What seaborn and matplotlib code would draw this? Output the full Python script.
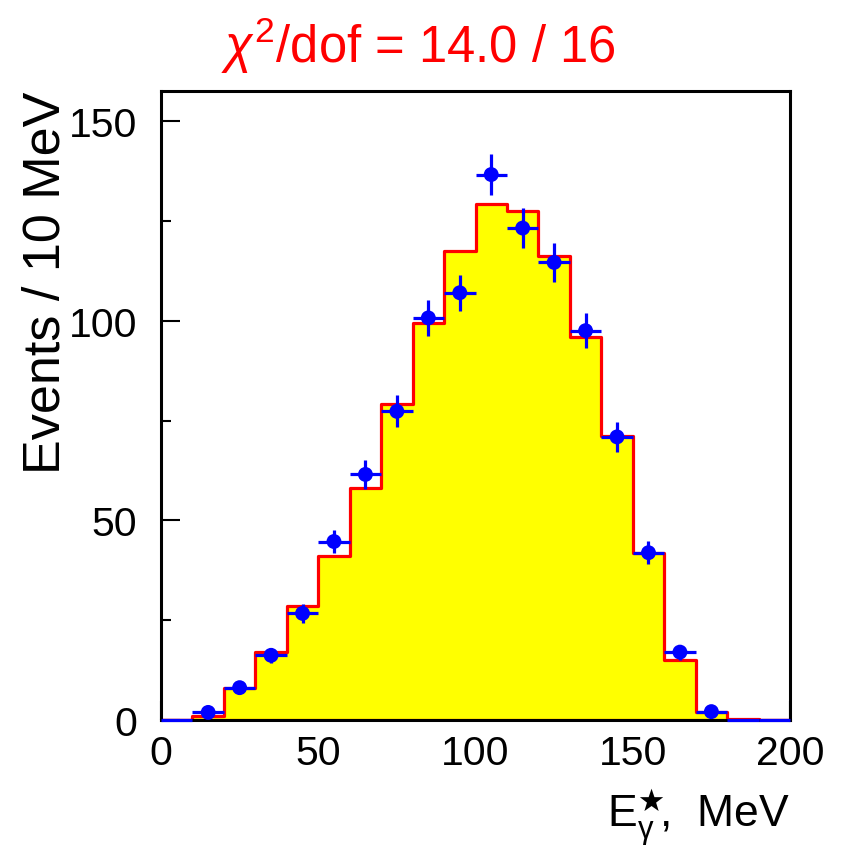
import numpy as np
import pandas as pd
import matplotlib
matplotlib.use("Agg")
import matplotlib.pyplot as plt
import seaborn as sns

# ---- data ----
bin_edges = [0, 10, 20, 30, 40, 50, 60, 70, 80, 90, 100,
             110, 120, 130, 140, 150, 160, 170, 180, 190, 200]
model_counts = [0.0, 1.0, 7.9, 17.0, 28.5, 41.0, 58.0, 79.1, 99.3, 117.5,
                129.2, 127.4, 116.2, 95.8, 71.0, 41.8, 15.0, 2.0, 0.25, 0.0]
data_counts = [0.0, 1.9, 8.1, 16.2, 26.7, 44.7, 61.5, 77.3, 100.7, 107.0,
               136.6, 123.2, 114.6, 97.5, 70.9, 41.9, 17.0, 2.1, 0.0, 0.0]
data_errors = [0.0, 0.6, 1.3, 1.8, 2.3, 3.0, 3.55, 4.0, 4.5, 4.5,
               5.2, 5.0, 4.8, 4.45, 3.8, 2.9, 1.85, 0.65, 0.0, 0.0]
x_ticks = [0, 50, 100, 150, 200]
y_ticks = [0, 50, 100, 150]
title_text = r"$\chi^{2}$/dof = 14.0 / 16"
x_label = r"E$_{\mathrm{\gamma}}^{\bigstar}$$\!$,  MeV"
y_label = "Events / 10 MeV"

sns.set_theme(style="ticks")
plt.rcParams["font.family"] = ["Liberation Sans", "DejaVu Sans"]
plt.rcParams["mathtext.fontset"] = "custom"
plt.rcParams["mathtext.rm"] = "Liberation Sans"
plt.rcParams["mathtext.it"] = "Liberation Sans:italic"
plt.rcParams["mathtext.bf"] = "Liberation Sans:bold"
plt.rcParams["mathtext.fallback"] = "stixsans"
for key in ["text.color", "axes.labelcolor", "xtick.color", "ytick.color",
            "xtick.labelcolor", "ytick.labelcolor"]:
    plt.rcParams[key] = "black"

edges = np.array(bin_edges, dtype=float)
centers = 0.5 * (edges[:-1] + edges[1:])
half_w = 0.5 * np.diff(edges)
df_model = pd.DataFrame({"E": centers, "w": model_counts})
df_data = pd.DataFrame({"E": centers, "N": data_counts, "err": data_errors})

fig = plt.figure(figsize=(8.44, 8.54), dpi=100)
ax = fig.add_axes([161 / 844, 1 - 721 / 854, (790 - 161) / 844, (721 - 91.7) / 854])

sns.histplot(data=df_model, x="E", weights="w", bins=list(bin_edges), element="step",
             fill=True, facecolor="#ffff00", edgecolor="#ff0000",
             linewidth=2.3, alpha=1.0, ax=ax, zorder=1)

ax.errorbar(df_data["E"], df_data["N"], xerr=half_w, yerr=df_data["err"],
            fmt="none", ecolor="#0000ff", elinewidth=2.3, capsize=0, zorder=3,
            clip_on=False)
nz = df_data[df_data["N"] > 0]
sns.scatterplot(data=nz, x="E", y="N", color="#0000ff", s=115,
                edgecolor="none", ax=ax, zorder=4, clip_on=False)

ax.set_xlim(0, 200)
ax.set_ylim(0, 157.6)
ax.set_xticks(x_ticks)
ax.set_yticks(y_ticks)
ax.set_xticks([25, 75, 125, 175], minor=True)
ax.set_yticks([25, 75, 125], minor=True)
ax.tick_params(which="both", direction="in", top=False, right=False,
               width=1.5, color="black")
ax.tick_params(which="major", length=13.5)
ax.tick_params(which="minor", length=7)
ax.tick_params(axis="x", which="major", labelsize=29.5, pad=10)
ax.tick_params(axis="y", which="major", labelsize=29.5, pad=17)
for s in ax.spines.values():
    s.set_linewidth(2.2)
    s.set_color("black")
    s.set_visible(True)

ax.set_xlabel(x_label, fontsize=32, loc="right", labelpad=10)
ax.set_ylabel(y_label, fontsize=37.5, loc="top", labelpad=-1)
ax.grid(False)

fig.text(0.496, 1 - 63 / 854, title_text, color="#ff0000", fontsize=36.5,
         ha="center", va="baseline")

fig.savefig("out.png", dpi=100)
